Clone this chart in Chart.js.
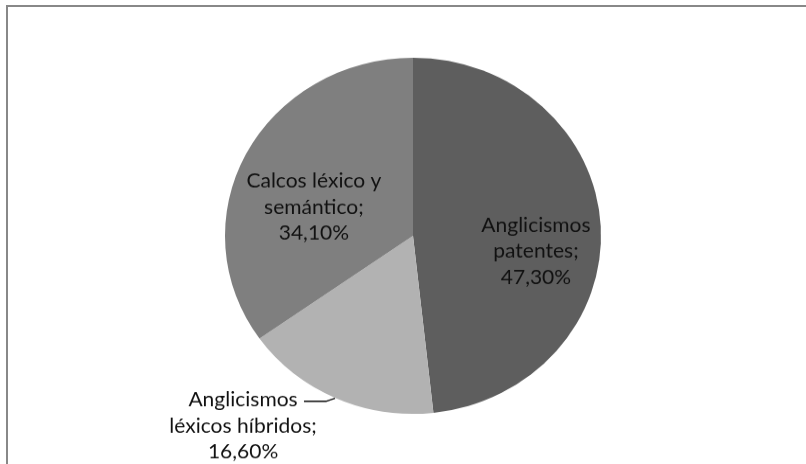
<!DOCTYPE html>
<html>
<head>
<meta charset="utf-8">
<script src="https://cdn.jsdelivr.net/npm/chart.js@4"></script>
<style>
  html, body { margin: 0; padding: 0; background: #fff; overflow: hidden; }
  #wrap { position: relative; width: 806px; height: 464px; overflow: hidden; }
  #frame { position: absolute; left: 6px; top: 5px; width: 840px; height: 500px; border: 2px solid #888; }
  #myChart { position: absolute; left: 0; top: 0; }
</style>
</head>
<body>
<div id="wrap">
  <div id="frame"></div>
  <canvas id="myChart" width="806" height="490" style="width:806px;height:464px"></canvas>
</div>
<script>
const categories = ["Anglicismos patentes", "Anglicismos léxicos híbridos", "Calcos léxico y semántico"]
const values = [47.3, 16.6, 34.1]
const labelLines = [
  ["Anglicismos", "patentes;", "47,30%"],
  ["Anglicismos", "léxicos híbridos;", "16,60%"],
  ["Calcos léxico y", "semántico;", "34,10%"]
]
const colors = ["#5e5e5e", "#b2b2b2", "#7f7f7f"]

// label anchors, in units of the pie radius from its centre
const labelPos = [[0.654, 0.087], [-0.904, 1.07], [-0.527, -0.16]]

const pieLabels = {
  id: 'pieLabels',
  afterDatasetsDraw(chart) {
    const ctx = chart.ctx
    const arcs = chart.getDatasetMeta(0).data
    const cx = arcs[0].x, cy = arcs[0].y, r = arcs[0].outerRadius
    ctx.save()
    // leader line for the small slice
    ctx.strokeStyle = "#111"
    ctx.lineWidth = 1.5
    ctx.beginPath()
    ctx.moveTo(cx - 0.58 * r, cy + 0.93 * r)
    ctx.lineTo(cx - 0.463 * r, cy + 0.93 * r)
    ctx.lineTo(cx - 0.415 * r, cy + 0.913 * r)
    ctx.stroke()

    ctx.fillStyle = "#111"
    ctx.font = "21px Lato, 'Open Sans', sans-serif"
    ctx.textAlign = "center"
    ctx.textBaseline = "middle"
    const lh = 27.5
    labelLines.forEach((lines, i) => {
      const x = cx + labelPos[i][0] * r
      const y = cy + labelPos[i][1] * r
      lines.forEach((t, j) => {
        ctx.fillText(t, x, y + (j - 1) * lh)
      })
    })
    ctx.restore()
  }
}

const chart = new Chart("myChart", {
  type: "pie",
  data: {
    labels: categories,
    datasets: [{
      data: values,
      backgroundColor: colors,
      borderWidth: 0
    }]
  },
  options: {
    responsive: false,
    animation: false,
    layout: { padding: { left: 225, right: 205, top: 61, bottom: 53 } },
    plugins: {
      legend: { display: false },
      tooltip: { enabled: false }
    }
  },
  plugins: [pieLabels]
})
</script>
</body>
</html>
